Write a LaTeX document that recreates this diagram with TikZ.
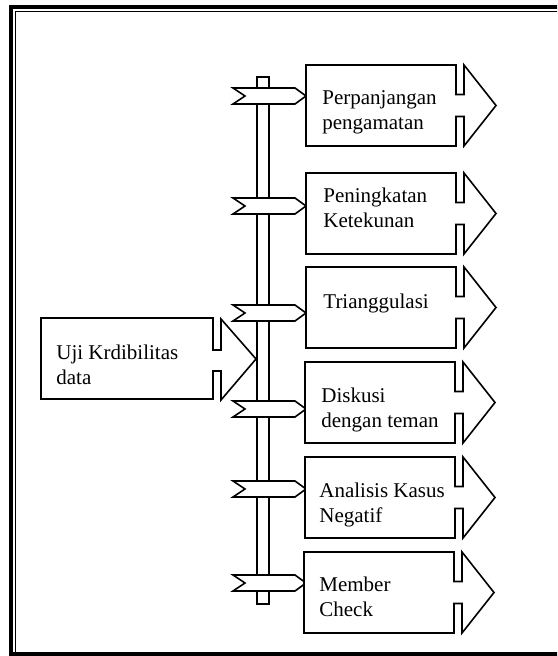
\documentclass[tikz,border=0pt]{standalone}
\usepackage{fontspec}
\setmainfont{Liberation Serif}
\usepackage{tikz}

\begin{document}
\begin{tikzpicture}[x=0.5pt,y=-0.5pt,
  outline/.style={draw,fill=white,line width=0.8pt},
  lbl/.style={anchor=north west,inner sep=0pt,align=left,font=\fontsize{10.5}{12.5}\selectfont}]
  \useasboundingbox (0,0) rectangle (557,656);
  % frame
  \begin{scope}
    \clip (0,0) rectangle (557,656);
    \draw[line width=2.25pt] (11,7) rectangle (575,654.5);
    \draw[line width=0.75pt] (15.5,11.5) rectangle (570,670);
  \end{scope}
  % pole
  \node[outline,minimum width=6pt,minimum height=263.5pt,inner sep=0pt,anchor=north west] (pole) at (256,76) {};
  \coordinate (tip) at (256,359);
  % left box
  \draw[outline] (41,318) -- (213,318) -- (213,350) -- (221,350) -- (221,319) -- (tip)
    -- (221,400) -- (221,371) -- (213,371) -- (213,399) -- (41,399) -- cycle;
  % signs on the pole
  \draw[outline] (306,96) -- ++(-11,-8) -- ++(-62,0) -- ++(12,8) -- ++(-12,8) -- ++(62,0) -- cycle;
  \draw[outline] (306,206) -- ++(-11,-8) -- ++(-62,0) -- ++(12,8) -- ++(-12,8) -- ++(62,0) -- cycle;
  \draw[outline] (306,313) -- ++(-11,-8) -- ++(-62,0) -- ++(12,8) -- ++(-12,8) -- ++(62,0) -- cycle;
  \draw[outline] (306,409) -- ++(-11,-8) -- ++(-62,0) -- ++(12,8) -- ++(-12,8) -- ++(62,0) -- cycle;
  \draw[outline] (306,489) -- ++(-11,-8) -- ++(-62,0) -- ++(12,8) -- ++(-12,8) -- ++(62,0) -- cycle;
  \draw[outline] (306,583) -- ++(-11,-8) -- ++(-62,0) -- ++(12,8) -- ++(-12,8) -- ++(62,0) -- cycle;
  % right boxes
  \draw[outline] (306,65) -- ++(150,0) -- ++(0,29.5) -- ++(8,0) -- ++(0,-29.5) -- ++(32,40.5)
    -- ++(-32,40.5) -- ++(0,-29.5) -- ++(-8,0) -- ++(0,29.5) -- ++(-150,0) -- cycle;
  \draw[outline] (306,173) -- ++(150,0) -- ++(0,29.5) -- ++(8,0) -- ++(0,-29.5) -- ++(32,40.5)
    -- ++(-32,40.5) -- ++(0,-29.5) -- ++(-8,0) -- ++(0,29.5) -- ++(-150,0) -- cycle;
  \draw[outline] (306,267) -- ++(150,0) -- ++(0,29.5) -- ++(8,0) -- ++(0,-29.5) -- ++(32,40.5)
    -- ++(-32,40.5) -- ++(0,-29.5) -- ++(-8,0) -- ++(0,29.5) -- ++(-150,0) -- cycle;
  \draw[outline] (305,362) -- ++(150,0) -- ++(0,29.5) -- ++(8,0) -- ++(0,-29.5) -- ++(32,40.5)
    -- ++(-32,40.5) -- ++(0,-29.5) -- ++(-8,0) -- ++(0,29.5) -- ++(-150,0) -- cycle;
  \draw[outline] (305,457) -- ++(150,0) -- ++(0,29.5) -- ++(8,0) -- ++(0,-29.5) -- ++(32,40.5)
    -- ++(-32,40.5) -- ++(0,-29.5) -- ++(-8,0) -- ++(0,29.5) -- ++(-150,0) -- cycle;
  \draw[outline] (304,552) -- ++(150,0) -- ++(0,29.5) -- ++(8,0) -- ++(0,-29.5) -- ++(32,40.5)
    -- ++(-32,40.5) -- ++(0,-29.5) -- ++(-8,0) -- ++(0,29.5) -- ++(-150,0) -- cycle;
  % labels
  \node[lbl] (uji) at (56,344.5) {Uji Krdibilitas\\data};
  \node[lbl] (perp) at (322,90.5) {Perpanjangan\\pengamatan};
  \node[lbl] (tekun) at (323,187.5) {Peningkatan\\Ketekunan};
  \node[lbl] (tri) at (323,293.5) {Trianggulasi};
  \node[lbl] (disk) at (321,387.5) {Diskusi\\dengan teman};
  \node[lbl] (neg) at (319,482.5) {Analisis Kasus\\Negatif};
  \node[lbl] (member) at (319,576.5) {Member\\Check};
\end{tikzpicture}
\end{document}
